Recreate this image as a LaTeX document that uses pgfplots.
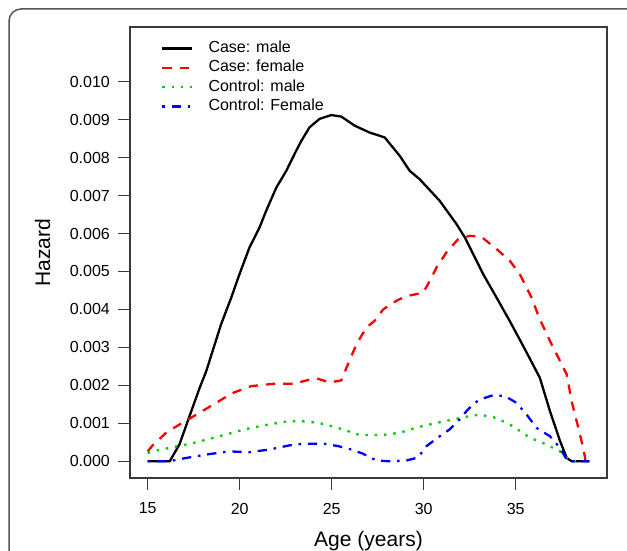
\documentclass[border=0pt]{standalone}
\usepackage{fontspec}
\setmainfont{Liberation Sans}
\usepackage{pgfplots}
\pgfplotsset{compat=1.18}
\definecolor{rred}{HTML}{FF0000}
\definecolor{rgreen}{HTML}{00CD00}
\definecolor{rblue}{HTML}{0000FF}
\definecolor{boxgray}{HTML}{3A3A3A}
\definecolor{framegray}{HTML}{555555}
\newcommand{\tickfont}{\fontsize{16bp}{19bp}\selectfont}
\newcommand{\labfont}{\fontsize{21bp}{25bp}\selectfont}
\begin{document}
\begin{tikzpicture}[x=1bp,y=1bp]
\path[use as bounding box] (0,0) rectangle (627,551);
\draw[framegray, line width=1.5bp, rounded corners=12bp] (9,-30) -- (9,542) -- (660,542);
\begin{axis}[
    at={(130bp,73bp)}, anchor=south west,
    scale only axis, width=477bp, height=451bp,
    xmin=14.04, xmax=39.96, ymin=-0.00044, ymax=0.01144,
    axis line style={boxgray, line width=1.3bp},
    tick style={boxgray, line width=1.3bp},
    tick align=outside, major tick length=12bp,
    xtick pos=bottom, ytick pos=left,
    xtick={15,20,25,30,35},
    ytick={0,0.001,0.002,0.003,0.004,0.005,0.006,0.007,0.008,0.009,0.010},
    scaled y ticks=false,
    /pgf/number format/assume math mode=true,
    yticklabel style={/pgf/number format/.cd, fixed, fixed zerofill, precision=3, /tikz/.cd,
        font=\tickfont, inner sep=0pt, anchor=east, xshift=-8bp},
    xticklabel style={font=\tickfont, inner sep=0pt, anchor=north, yshift=-12.7bp},
    xlabel={Age (years)}, ylabel={Hazard},
    every axis x label/.style={at={(axis description cs:0.5,-0.1508)}, anchor=base, font=\labfont},
    every axis y label/.style={at={(axis description cs:-0.1677,0.5)}, anchor=base, rotate=90, font=\labfont},
    legend style={draw=none, fill=none, at={(axis description cs:0.065,0.9694)}, anchor=north west,
        inner sep=0pt, row sep=4.5bp, column sep=15bp, font=\tickfont,
        nodes={inner sep=0pt, text height=11.5bp, text depth=3.4bp}},
    legend cell align=left,
    legend image code/.code={\draw[#1] (0bp,0bp) -- (30bp,0bp);},
    every axis plot/.append style={line width=2.3bp, line join=round},
]
\addplot[black] coordinates {
(15,0) (16.2,0) (16.73,0.00045) (17.18,0.00106) (17.82,0.00193) (18.18,0.00237)
(18.99,0.00361) (19.54,0.00431) (19.99,0.00493) (20.53,0.00563) (21.08,0.00616)
(21.44,0.0066) (21.99,0.00721) (22.53,0.00765) (23.07,0.00818) (23.35,0.00844)
(23.8,0.0088) (24.34,0.00902) (24.98,0.00912) (25.52,0.00908) (26.25,0.00884)
(27.06,0.00866) (27.88,0.00853) (28.69,0.00805) (29.24,0.00765) (29.78,0.00743)
(30.87,0.00686) (31.78,0.00625) (32.23,0.0059) (33.23,0.00493) (33.96,0.00431)
(34.68,0.00369) (35.5,0.00295) (36.31,0.0022) (36.86,0.00132) (37.41,0.00053)
(37.77,0.00009) (38.04,0) (39,0)
};
\addlegendentry{Case: male}
\addplot[rred, dash pattern=on 9.3bp off 8bp] coordinates {
(15,0.00026) (15.27,0.00042) (16.0,0.00075) (16.73,0.00097) (17.72,0.00125)
(18.72,0.00154) (19.62,0.0018) (20.63,0.00198) (21.8,0.00204) (22.89,0.00204)
(23.7,0.00214) (24.2,0.00218) (24.89,0.00208) (25.52,0.00213) (25.8,0.00246)
(26.34,0.00308) (26.88,0.00352) (27.33,0.0037) (27.8,0.004) (28.15,0.00412)
(28.6,0.00425) (29.06,0.00435) (29.96,0.00444) (30.23,0.00466) (30.69,0.0051)
(31.23,0.0055) (31.87,0.00585) (32.5,0.00594) (33.14,0.00591) (33.96,0.00559)
(34.68,0.00528) (35.22,0.00493) (35.86,0.00431) (36.31,0.00374) (36.86,0.00317)
(37.22,0.00282) (37.77,0.00229) (38.04,0.00158) (38.4,0.00088) (38.67,0.00035)
(38.8,0) (39,0)
};
\addlegendentry{Case: female}
\addplot[rgreen, dash pattern=on 2.5bp off 6.8bp] coordinates {
(15,0.00022) (15.54,0.00029) (16.36,0.00037) (17.45,0.00048) (18.36,0.00059)
(19.35,0.00072) (20.35,0.00085) (21.35,0.00095) (22.44,0.00104) (23.2,0.00106)
(23.8,0.00104) (24.62,0.00098) (25.61,0.00084) (26.52,0.00069) (27.7,0.00069)
(28.69,0.00075) (29.69,0.0009) (30.69,0.00101) (31.59,0.0011) (32.5,0.00119)
(33.05,0.00123) (33.96,0.00114) (34.86,0.00092) (35.77,0.00062) (36.68,0.00044)
(37.41,0.00026) (37.77,0.00009) (38.0,0) (39,0)
};
\addlegendentry{Control: male}
\addplot[rblue, dash pattern=on 2.5bp off 6.8bp on 9.3bp off 6.8bp] coordinates {
(15,0) (16.2,0) (16.54,0.00004) (17.36,0.00011) (18.36,0.00019) (19.44,0.00026)
(20.53,0.00024) (21.62,0.00031) (22.71,0.00042) (23.43,0.00046) (24.62,0.00046)
(25.34,0.0004) (26.07,0.00031) (26.7,0.0002) (27.43,0.00002) (28.15,0)
(29.06,0.00002) (29.69,0.0001) (30.15,0.0004) (30.78,0.00063) (31.41,0.00084)
(31.87,0.00106) (32.32,0.00132) (32.68,0.0015) (33.05,0.00163) (33.77,0.00174)
(34.41,0.00172) (35.04,0.00154) (35.59,0.00123) (36.13,0.00088) (36.86,0.00066)
(37.41,0.00035) (37.77,0.00004) (38,0) (39,0)
};
\addlegendentry{Control: Female}
\end{axis}
\end{tikzpicture}
\end{document}
